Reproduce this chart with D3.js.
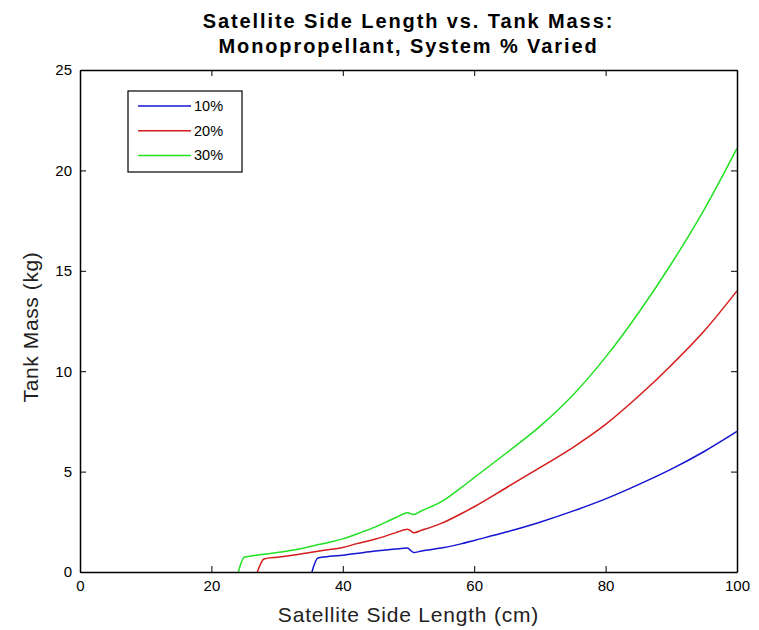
<!DOCTYPE html>
<html>
<head>
<meta charset="utf-8">
<script src="https://cdn.jsdelivr.net/npm/d3@7"></script>
<style>
  body { margin: 0; background: #fff; }
  svg { display: block; font-family: "Liberation Sans", Arial, sans-serif; }
</style>
</head>
<body>
<svg id="chart"></svg>
<script>
// 10% system
const blueX = [35.3, 36.2, 38, 40, 42, 45, 48, 49.8, 50.8, 52, 55, 58, 60, 65, 70, 75, 80, 85, 90, 95, 100];
const blueY = [0, 0.70, 0.78, 0.84, 0.92, 1.04, 1.14, 1.19, 0.97, 1.05, 1.19, 1.40, 1.57, 2.0, 2.48, 3.03, 3.64, 4.35, 5.12, 6.0, 7.0];
// 20% system
const redX = [27.0, 28.0, 30, 32, 35, 38, 40, 42, 45, 48, 49.9, 50.8, 52, 55, 58, 60, 65, 70, 75, 80, 85, 90, 95, 100];
const redY = [0, 0.65, 0.74, 0.82, 0.97, 1.12, 1.22, 1.40, 1.64, 1.95, 2.13, 1.96, 2.08, 2.42, 2.9, 3.25, 4.22, 5.2, 6.2, 7.35, 8.75, 10.3, 12.0, 14.0];
// 30% system
const greenX = [24.1, 25, 28, 30, 33, 36, 38, 40, 43, 45, 48, 49.9, 50.7, 52, 55, 58, 60, 65, 70, 75, 80, 85, 90, 95, 100];
const greenY = [0, 0.73, 0.88, 0.97, 1.12, 1.34, 1.48, 1.65, 2.0, 2.25, 2.7, 2.95, 2.86, 3.05, 3.5, 4.2, 4.7, 5.95, 7.25, 8.8, 10.7, 12.9, 15.35, 18.05, 21.1];

const legendLabels = ["10%", "20%", "30%"];
const xTicks = [0, 20, 40, 60, 80, 100];
const yTicks = [0, 5, 10, 15, 20, 25];

const width = 759, height = 630;
const margin = {top: 70, right: 22, bottom: 58, left: 80};
const colors = ["#1414d2", "#d41c1c", "#22e022"];

const series = [
  {label: legendLabels[0], xs: blueX, ys: blueY},
  {label: legendLabels[1], xs: redX, ys: redY},
  {label: legendLabels[2], xs: greenX, ys: greenY}
];

const x = d3.scaleLinear([0, 100], [margin.left, width - margin.right]);
const y = d3.scaleLinear([0, 25], [height - margin.bottom, margin.top]);

const svg = d3.select("#chart")
    .attr("width", width)
    .attr("height", height)
    .attr("viewBox", [0, 0, width, height]);

// curves
const line = d3.line().curve(d3.curveMonotoneX).x(d => x(d[0])).y(d => y(d[1]));
svg.append("g")
    .attr("fill", "none")
    .attr("stroke-width", 1.5)
  .selectAll("path")
  .data(series)
  .join("path")
    .attr("stroke", (d, i) => colors[i])
    .attr("d", d => line(d3.zip(d.xs, d.ys)));

// axes with inward ticks on all four sides
const tickStyle = g => g
  .call(g => g.select(".domain").attr("stroke", "#000").attr("stroke-width", 1.5))
  .call(g => g.selectAll(".tick line").attr("stroke", "#000"))
  .call(g => g.selectAll(".tick text").attr("fill", "#000"));

svg.append("g")
    .attr("transform", `translate(0,${height - margin.bottom})`)
    .call(d3.axisBottom(x).tickValues(xTicks).tickSize(-6).tickSizeOuter(0).tickPadding(8))
    .call(tickStyle)
    .call(g => g.selectAll(".tick text").attr("font-size", 15).attr("font-family", "Liberation Sans Narrow, Liberation Sans, Arial"));

svg.append("g")
    .attr("transform", `translate(0,${margin.top})`)
    .call(d3.axisTop(x).tickValues(xTicks).tickSize(-6).tickSizeOuter(0).tickFormat(""))
    .call(tickStyle);

svg.append("g")
    .attr("transform", `translate(${margin.left},0)`)
    .call(d3.axisLeft(y).tickValues(yTicks).tickSize(-6).tickSizeOuter(0).tickPadding(8))
    .call(tickStyle)
    .call(g => g.selectAll(".tick text").attr("font-size", 15).attr("font-family", "Liberation Sans Narrow, Liberation Sans, Arial"));

svg.append("g")
    .attr("transform", `translate(${width - margin.right},0)`)
    .call(d3.axisRight(y).tickValues(yTicks).tickSize(-6).tickSizeOuter(0).tickFormat(""))
    .call(tickStyle);

// title
const title = svg.append("text")
    .attr("text-anchor", "middle")
    .attr("font-weight", "bold")
    .attr("font-size", 20)
    .attr("letter-spacing", 1.9)
    .attr("fill", "#000");
title.append("tspan").attr("x", (x(0) + x(100)) / 2).attr("y", 28).text("Satellite Side Length vs. Tank Mass:");
title.append("tspan").attr("x", (x(0) + x(100)) / 2).attr("y", 53).text("Monopropellant, System % Varied");

// axis labels
svg.append("text")
    .attr("x", (x(0) + x(100)) / 2)
    .attr("y", 622)
    .attr("text-anchor", "middle")
    .attr("font-size", 21)
    .attr("letter-spacing", 0.8)
    .attr("fill", "#222")
    .text("Satellite Side Length (cm)");

svg.append("text")
    .attr("transform", `translate(38,${(y(0) + y(25)) / 2 + 6}) rotate(-90)`)
    .attr("text-anchor", "middle")
    .attr("font-size", 21)
    .attr("letter-spacing", 0.6)
    .attr("fill", "#222")
    .text("Tank Mass (kg)");

// legend
const legend = svg.append("g").attr("transform", "translate(128,91)");
legend.append("rect")
    .attr("width", 114)
    .attr("height", 81)
    .attr("fill", "#fff")
    .attr("stroke", "#000")
    .attr("stroke-width", 1.2);
const item = legend.selectAll("g.item")
  .data(series)
  .join("g")
    .attr("class", "item")
    .attr("transform", (d, i) => `translate(0,${15 + i * 24.7})`);
item.append("line")
    .attr("x1", 10).attr("x2", 63)
    .attr("stroke", (d, i) => colors[i])
    .attr("stroke-width", 1.5);
item.append("text")
    .attr("x", 66)
    .attr("dy", "0.35em")
    .attr("font-size", 14.5)
    .attr("fill", "#000")
    .text(d => d.label);
</script>
</body>
</html>
